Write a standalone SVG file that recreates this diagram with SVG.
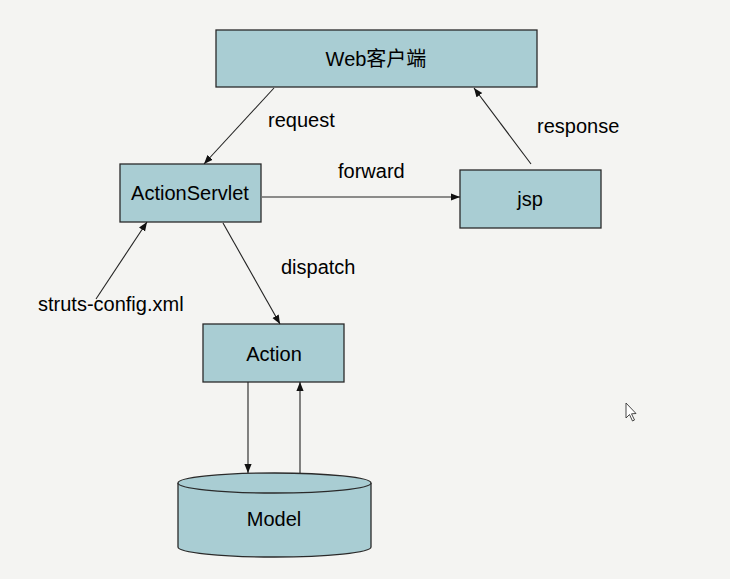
<svg xmlns="http://www.w3.org/2000/svg" width="730" height="579" viewBox="0 0 730 579">
<style>
.box{fill:#a9cdd3;stroke:#2a2a2a;stroke-width:1.3}
.t{font-family:"Liberation Sans",Arial,"Noto Sans CJK SC",sans-serif;font-size:20px;fill:#000}
.c{text-anchor:middle}
.ln{stroke:#222;stroke-width:1.1;fill:none;marker-end:url(#ah)}
</style>
<defs>
<marker id="ah" viewBox="0 0 10 10" refX="10" refY="5" markerWidth="9" markerHeight="9" markerUnits="userSpaceOnUse" orient="auto">
<path d="M0,1 L10,5 L0,9 Z" fill="#111"/>
</marker>
</defs>
<rect width="730" height="579" fill="#f4f4f2"/>
<g id="web"><rect class="box" x="216" y="30" width="321" height="57"/><text class="t c" x="376" y="66">Web客户端</text></g>
<g id="actionservlet"><rect class="box" x="120" y="164" width="141" height="58"/><text class="t c" x="190" y="200">ActionServlet</text></g>
<g id="jsp"><rect class="box" x="460" y="170" width="141" height="58"/><text class="t c" x="530" y="206">jsp</text></g>
<g id="action"><rect class="box" x="203" y="324" width="141" height="58"/><text class="t c" x="274" y="361">Action</text></g>
<g id="model">
<path class="box" d="M178,483 L178,547 A96.5,10 0 0 0 371,547 L371,483"/>
<ellipse class="box" cx="274.5" cy="483" rx="96.5" ry="10"/>
<text class="t c" x="274" y="526">Model</text>
</g>
<g id="connectors">
<line class="ln" x1="274" y1="88" x2="204" y2="164"/>
<line class="ln" x1="531" y1="164" x2="474" y2="88"/>
<line class="ln" x1="262" y1="197" x2="460" y2="197"/>
<line class="ln" x1="96" y1="299" x2="147" y2="222"/>
<line class="ln" x1="223" y1="223" x2="280" y2="324"/>
<line class="ln" x1="248" y1="382" x2="248" y2="473"/>
<line class="ln" x1="300" y1="473" x2="300" y2="382"/>
</g>
<g id="labels">
<text class="t" x="268" y="127">request</text>
<text class="t" x="338" y="178">forward</text>
<text class="t" x="537" y="133">response</text>
<text class="t" x="281" y="274">dispatch</text>
<text class="t" x="38" y="311">struts-config.xml</text>
</g>
<path d="M626,403 L626,418 L629.5,414.5 L632.5,421 L634.5,420 L631.5,413.8 L636,413.5 Z" fill="#fff" stroke="#333" stroke-width="0.9"/>
</svg>
